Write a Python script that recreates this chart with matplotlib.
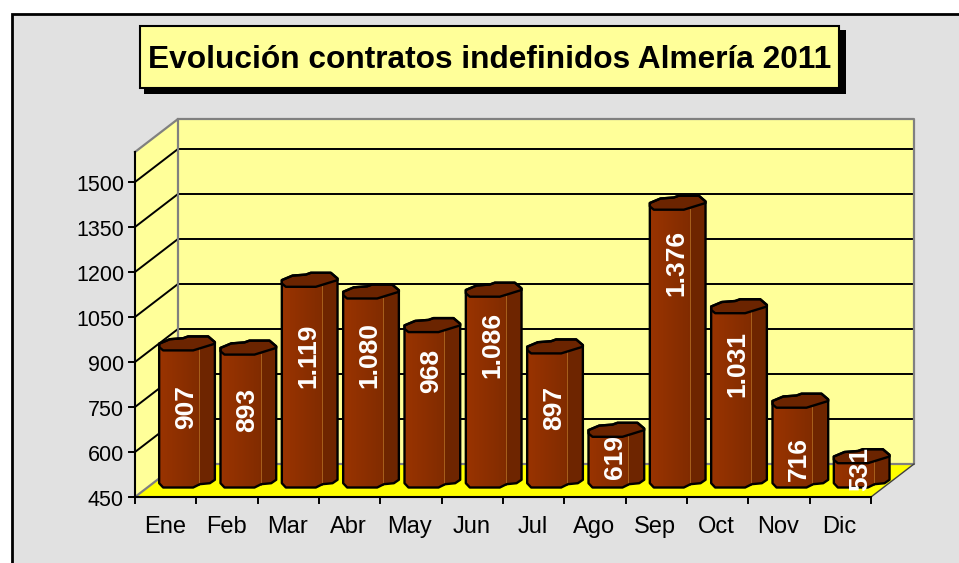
import numpy as np
import matplotlib
matplotlib.use("Agg")
import matplotlib.pyplot as plt
from matplotlib.patches import Rectangle, Polygon
from matplotlib.transforms import IdentityTransform

plt.rcParams['font.family'] = ['Liberation Sans', 'DejaVu Sans']

months = ["Ene", "Feb", "Mar", "Abr", "May", "Jun", "Jul", "Ago", "Sep", "Oct", "Nov", "Dic"]
contracts = [907, 893, 1119, 1080, 968, 1086, 897, 619, 1376, 1031, 716, 531]
value_labels = ["907", "893", "1.119", "1.080", "968", "1.086", "897", "619", "1.376", "1.031", "716", "531"]
y_ticks = [450, 600, 750, 900, 1050, 1200, 1350, 1500]
y_top = 1600

# label centre below the top of each bar, px (the labels are not centred in the original)
label_drop = [57, 55, 69, 56, 39, 48, 55, 20, 53, 51, 51, 6]

W, H = 959, 563
DEPTH = (43, 33)        # wall depth in px
BAR_SHIFT = (13.5, 9.5)  # bars stand inside the floor
BAR_FRONT = 40

# hand traced outline of the bar, px from its front left
cap = [(0, 3.3), (0, 6.7), (10.7, 11.2), (24, 12.2), (29, 14), (49, 14),
       (55.7, 8.3), (55.7, 6.7), (34, 0), (4, 0)]
foot = [(0, 4.3), (4, 0), (34, 0), (40.7, 3.3), (50.7, 4.3), (55.7, 7.7)]

fig = plt.figure(figsize=(W / 100, H / 100), dpi=100, facecolor="white")
ax = fig.add_axes([135 / W, (H - 497) / H, 736 / W, 345 / H])
ax.set_xlim(0, 12)
ax.set_ylim(450, y_top)
ax.patch.set_visible(False)
ax.spines[["left", "right", "top", "bottom"]].set_visible(False)
ax.set_xticks([])
ax.set_yticks([])
px = IdentityTransform()


def pos(x, v, d=(0, 0)):
    a = ax.transData.transform((x, v))
    return a[0] + d[0], a[1] + d[1]


def top(y):
    return H - y


# background and frame
fig.patches.append(Rectangle((11.5, -10), W + 20, top(13.5) + 10, transform=px,
                             fc="#E1E1E1", ec="black", lw=2, zorder=-4))

# walls and floor
kw = dict(transform=px, clip_on=False)
a, b = pos(0, 450), pos(12, 450)
c, d = pos(0, y_top), pos(12, y_top)
back = lambda p: (p[0] + DEPTH[0], p[1] + DEPTH[1])
ax.add_patch(Polygon([back(a), back(b), back(d), back(c)], fc="#FFFF99", ec="none", zorder=1, **kw))
ax.add_patch(Polygon([a, back(a), back(c), c], fc="#FFFF99", ec="none", zorder=1, **kw))
ax.add_patch(Polygon([a, b, back(b), back(a)], fc="#FFFF00", ec="none", zorder=1, **kw))

for v in y_ticks[1:]:
    p = pos(0, v)
    q = pos(12, v)
    ax.plot([p[0], back(p)[0], back(q)[0]], [p[1], back(p)[1], back(q)[1]],
            color="black", lw=1.4, zorder=2, solid_joinstyle="miter", **kw)

gray = "#808080"
ax.plot([a[0], back(a)[0], back(c)[0], c[0]], [a[1], back(a)[1], back(c)[1], c[1]],
        color=gray, lw=1.6, zorder=2, **kw)
ax.plot([back(a)[0], back(b)[0], back(d)[0], back(c)[0]], [back(a)[1], back(b)[1], back(d)[1], back(c)[1]],
        color=gray, lw=1.6, zorder=2, **kw)
ax.plot([b[0], back(b)[0]], [b[1], back(b)[1]], color="#404040", lw=1, zorder=2, **kw)

# axes lines and ticks
ax.plot([c[0], a[0], b[0]], [c[1], a[1], b[1]], color="black", lw=1.5, zorder=6,
        solid_joinstyle="miter", **kw)
for v in y_ticks:
    p = pos(0, v)
    ax.plot([p[0] - 6, p[0]], [p[1], p[1]], color="black", lw=1.4, zorder=6, **kw)
    ax.text(p[0] - 11, p[1] - 9, str(v), ha="right", va="baseline", fontsize=15.5, color="black", **kw)
for i in range(13):
    p = pos(i, 450)
    ax.plot([p[0], p[0]], [p[1], p[1] - 6], color="black", lw=1.4, zorder=6, **kw)
for i, m in enumerate(months):
    p = pos(i + 0.5, 450)
    ax.text(p[0] - 1, p[1] - 36, m, ha="center", va="baseline", fontsize=17, color="black", **kw)


def shade(u):
    # lighter on the left, dark on the side face
    left = np.array([0x99, 0x33, 0x00]) / 255
    mid = np.array([0x80, 0x2B, 0x00]) / 255
    side = np.array([0x6E, 0x25, 0x00]) / 255
    if u < BAR_FRONT:
        return left + (mid - left) * u / BAR_FRONT
    return side


# bars
for i, v in enumerate(contracts):
    cx = pos(i + 0.5, v)[0]
    x0 = cx + BAR_SHIFT[0] - BAR_FRONT / 2
    y_base = pos(0, 450)[1] + BAR_SHIFT[1]
    y_top_px = pos(0, v)[1] + BAR_SHIFT[1]

    outline = [(x0 + u, y_base + w) for u, w in foot]
    outline += [(x0 + u, y_top_px + w) for u, w in [cap[6], cap[5], cap[4], cap[3], cap[2], cap[1], cap[0]]]
    body = Polygon(outline, fc="none", ec="none", zorder=3, **kw)
    ax.add_patch(body)
    for u in np.arange(0, 56, 1.0):
        strip = Rectangle((x0 + u, y_base - 2), 1.3, y_top_px - y_base + 20, fc=shade(u), ec="none",
                          zorder=3, transform=px)
        ax.add_patch(strip)
        strip.set_clip_box(None)
        strip.set_clip_path(body)
    ax.plot([x0 + BAR_FRONT, x0 + BAR_FRONT], [y_base + 3, y_top_px + 1], color="#A8601C", lw=0.7, zorder=3.5, **kw)

    ax.add_patch(Polygon([(x0 + u, y_top_px + w) for u, w in cap], fc="#6B2400", ec="black", lw=1.7,
                         zorder=4, joinstyle="round", **kw))
    ax.add_patch(Polygon(outline, fc="none", ec="black", lw=1.7, zorder=4, joinstyle="round", **kw))
    ax.text(x0 + 26.5, y_top_px - label_drop[i], value_labels[i], rotation=90, ha="center", va="center",
            fontsize=19, fontweight="bold", color="white", zorder=5, **kw)

# title box
ax.add_patch(Rectangle((143.5, top(94)), 702.5, 64, fc="black", ec="none", zorder=7, **kw))
ax.add_patch(Rectangle((139.5, top(87.5)), 699.5, 62, fc="#FFFF99", ec="black", lw=1.5, zorder=8, **kw))
ax.text(489.5, top(68), "Evolución contratos indefinidos Almería 2011", ha="center", va="baseline",
        fontsize=22.8, fontweight="bold", color="black", zorder=9, **kw)

fig.savefig("out.png", dpi=100, facecolor="white")
